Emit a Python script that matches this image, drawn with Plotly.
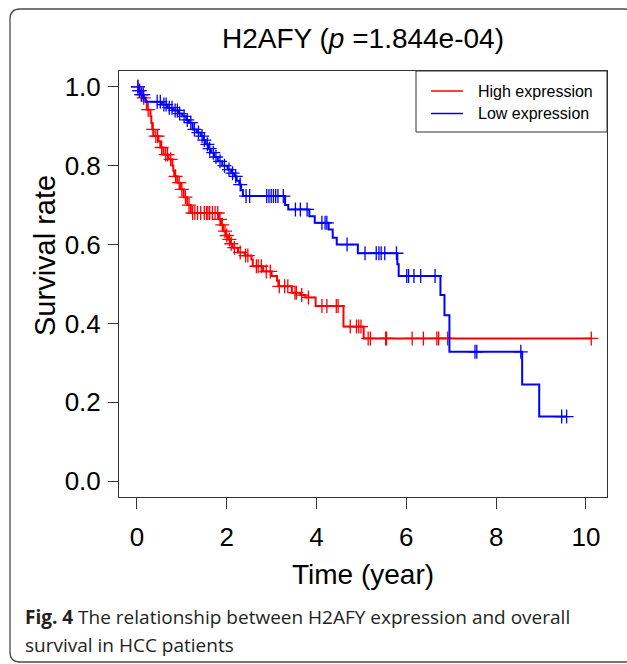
import plotly.graph_objects as go

# ---------------- data ----------------
# Kaplan-Meier steps: time (years) at which survival drops, and survival after the drop
high_t = [0, 0.03, 0.07, 0.12, 0.19, 0.22, 0.30, 0.32, 0.34, 0.37, 0.48, 0.52, 0.59, 0.70, 0.79,
          0.81, 0.83, 0.90, 0.97, 1.04, 1.12, 1.20, 1.82, 1.87, 1.92, 1.98, 2.03, 2.08, 2.13,
          2.25, 2.40, 2.55, 2.58, 2.81, 3.00, 3.12, 3.15, 3.45, 3.64, 3.75, 3.98, 4.60, 5.05, 10.12]
high_s = [1.0, 0.99, 0.98, 0.972, 0.963, 0.942, 0.925, 0.908, 0.892, 0.875, 0.862, 0.846, 0.828, 0.816, 0.80,
          0.787, 0.773, 0.757, 0.74, 0.72, 0.70, 0.68, 0.664, 0.65, 0.634, 0.623, 0.613, 0.602, 0.592,
          0.58, 0.572, 0.562, 0.545, 0.532, 0.52, 0.508, 0.494, 0.478, 0.472, 0.466, 0.444, 0.392, 0.362, 0.362]
high_cens = [0.02, 0.05, 0.10, 0.15, 0.25, 0.36, 0.42, 0.46, 0.55, 0.64, 0.68, 0.75, 0.86, 0.94, 1.00,
             1.08, 1.16, 1.24, 1.29, 1.35, 1.42, 1.50, 1.55, 1.58, 1.62, 1.68, 1.74, 1.80, 1.85, 1.90,
             1.96, 2.00, 2.06, 2.10, 2.17, 2.30, 2.42, 2.47, 2.66, 2.70, 2.77, 2.88, 2.97, 3.17, 3.29,
             3.36, 3.52, 3.55, 3.67, 3.82, 4.12, 4.23, 4.44, 4.48, 4.75, 4.89, 4.94, 4.99, 5.15, 5.20,
             5.54, 5.56, 6.13, 6.38, 6.68, 6.72, 6.92, 10.12]

low_t = [0, 0.05, 0.10, 0.15, 0.19, 0.55, 0.68, 0.80, 0.92, 1.01, 1.10, 1.16, 1.24, 1.33, 1.42, 1.48,
         1.53, 1.60, 1.65, 1.72, 1.80, 1.90, 2.02, 2.10, 2.17, 2.22, 2.28, 2.32, 2.36, 3.30, 3.37,
         3.84, 3.96, 4.27, 4.36, 4.45, 4.92, 5.80, 5.83, 6.76, 6.85, 6.96, 8.58, 8.96, 9.57]
low_s = [1.0, 0.99, 0.98, 0.972, 0.962, 0.955, 0.947, 0.94, 0.932, 0.925, 0.916, 0.909, 0.892, 0.884,
         0.875, 0.865, 0.854, 0.843, 0.833, 0.822, 0.811, 0.80, 0.79, 0.781, 0.773, 0.762, 0.752, 0.738,
         0.723, 0.70, 0.689, 0.672, 0.655, 0.638, 0.617, 0.60, 0.578, 0.55, 0.52, 0.472, 0.421, 0.328,
         0.245, 0.164, 0.164]
low_cens = [0.02, 0.06, 0.10, 0.14, 0.45, 0.52, 0.60, 0.65, 0.72, 0.78, 0.85, 0.90, 0.95, 1.05, 1.12,
            1.20, 1.28, 1.37, 1.45, 1.50, 1.57, 1.62, 1.70, 1.76, 1.85, 1.95, 2.05, 2.13, 2.20, 2.30,
            2.43, 2.51, 2.89, 2.94, 2.99, 3.04, 3.09, 3.14, 3.26, 3.53, 3.64, 3.79, 4.12, 4.19, 4.23,
            4.68, 5.08, 5.33, 5.39, 5.44, 5.52, 5.78, 6.01, 6.05, 6.17, 6.32, 6.64, 7.53, 7.57, 8.55,
            9.46, 9.57]

series_names = ["High expression", "Low expression"]
series_colors = ["#FF0000", "#0000FF"]
x_ticks = [0, 2, 4, 6, 8, 10]
y_ticks = [0.0, 0.2, 0.4, 0.6, 0.8, 1.0]
title_text = "H2AFY (<i>p</i> =1.844e-04)"
x_title = "Time (year)"
y_title = "Survival rate"
caption_1 = "<b>Fig. 4</b> The relationship between H2AFY expression and overall"
caption_2 = "survival in HCC patients"


def surv_at(times, surv, t):
    v = surv[0]
    for ti, si in zip(times, surv):
        if ti <= t:
            v = si
    return v


W, H = 627, 664
PL, PR, PT, PB = 119, 607, 71, 497          # plot box in window pixels
L, T, R, B = PL, PT, W - PR, H - PB
PW, PH = PR - PL, PB - PT


def px(x):
    return (x - PL) / PW


def py(y):
    return (PB - y) / PH


FONT = "Liberation Sans, Arial, Helvetica, sans-serif"

fig = go.Figure()
for (t, s, c), name, col in zip([(high_t, high_s, high_cens), (low_t, low_s, low_cens)],
                                series_names, series_colors):
    fig.add_trace(go.Scatter(x=t, y=s, mode="lines", line=dict(color=col, width=2, shape="hv"),
                             name=name, showlegend=False, hoverinfo="skip"))
    fig.add_trace(go.Scatter(x=c, y=[surv_at(t, s, ci) for ci in c], mode="markers",
                             marker=dict(symbol="cross-thin", size=10, color=col,
                                         line=dict(color=col, width=1.3)),
                             name=name, showlegend=False, hoverinfo="skip"))

shapes = []
# outer rounded frame of the figure panel
x0, y0, x1, y1, r = 10, 9, 634, 662, 10
path = (f"M {px(x0 + r)},{py(y0)} L {px(x1 - r)},{py(y0)} Q {px(x1)},{py(y0)} {px(x1)},{py(y0 + r)} "
        f"L {px(x1)},{py(y1 - r)} Q {px(x1)},{py(y1)} {px(x1 - r)},{py(y1)} "
        f"L {px(x0 + r)},{py(y1)} Q {px(x0)},{py(y1)} {px(x0)},{py(y1 - r)} "
        f"L {px(x0)},{py(y0 + r)} Q {px(x0)},{py(y0)} {px(x0 + r)},{py(y0)} Z")
shapes.append(dict(type="path", xref="paper", yref="paper", path=path,
                   line=dict(color="#4a4a4a", width=1.3)))
# legend box
shapes.append(dict(type="rect", xref="paper", yref="paper", x0=px(416), x1=1, y0=py(132), y1=1,
                   line=dict(color="#333333", width=1), fillcolor="white", layer="above"))
annotations = []
for i, (name, col) in enumerate(zip(series_names, series_colors)):
    yy = py(91 + 22.5 * i)
    shapes.append(dict(type="line", xref="paper", yref="paper", x0=px(431), x1=px(463), y0=yy, y1=yy,
                       line=dict(color=col, width=1.5), layer="above"))
    annotations.append(dict(xref="paper", yref="paper", x=px(476), y=yy, text=name, showarrow=False,
                            xanchor="left", yanchor="middle",
                            font=dict(family=FONT, size=16, color="black")))

# y axis title (placed as in the reference, above the axis centre)
annotations.append(dict(xref="paper", yref="paper", x=px(45), y=py(256), text=y_title, showarrow=False,
                        textangle=-90, xanchor="center", yanchor="middle",
                        font=dict(family=FONT, size=29, color="black")))

annotations.append(dict(xref="paper", yref="paper", x=px(23), y=py(617), text=caption_1, showarrow=False,
                        xanchor="left", yanchor="middle",
                        font=dict(family="Open Sans, sans-serif", size=19, color="#231f20")))
annotations.append(dict(xref="paper", yref="paper", x=px(23), y=py(645), text=caption_2, showarrow=False,
                        xanchor="left", yanchor="middle",
                        font=dict(family="Open Sans, sans-serif", size=19, color="#231f20")))

axis_common = dict(showgrid=False, zeroline=False, showline=True, mirror=True, linecolor="#333333",
                   linewidth=1, ticks="outside", tickcolor="#333333", tickwidth=1,
                   tickfont=dict(family=FONT, size=26, color="black"))

fig.update_layout(
    width=W, height=H, margin=dict(l=L, r=R, t=T, b=B),
    paper_bgcolor="white", plot_bgcolor="white",
    title=dict(text=title_text, xref="paper", x=0.5, xanchor="center", y=1 - 38 / H,
               yanchor="middle", font=dict(family=FONT, size=28, color="black")),
    xaxis=dict(range=[-0.40, 10.47], tickvals=x_ticks, ticktext=[str(v) for v in x_ticks], ticklen=11,
               ticklabelstandoff=6,
               title=dict(text=x_title, font=dict(family=FONT, size=28, color="black"), standoff=13),
               **axis_common),
    yaxis=dict(range=[-0.04, 1.04], tickvals=y_ticks, ticktext=[f"{v:.1f}" for v in y_ticks], ticklen=10,
               ticklabelstandoff=2, **axis_common),
    shapes=shapes, annotations=annotations, showlegend=False,
)

fig.write_html("out.html", config={"displayModeBar": False},
               post_script="document.body.style.margin='0';document.body.style.overflow='hidden';")
